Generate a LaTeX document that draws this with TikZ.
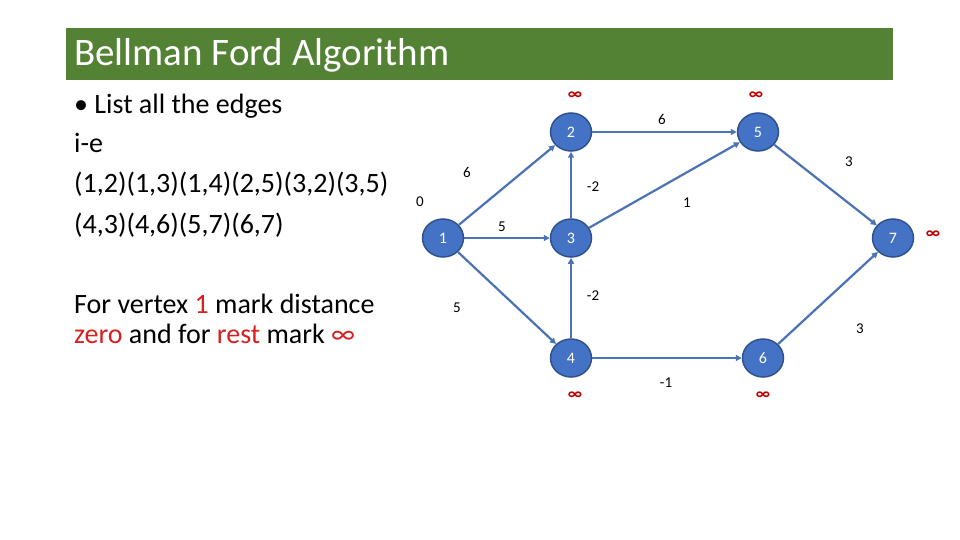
\documentclass[tikz,border=0pt]{standalone}
\usepackage{fontspec}
\setmainfont{Carlito}
\usetikzlibrary{arrows.meta,shapes.geometric}
\definecolor{titlegreen}{HTML}{548235}
\definecolor{nodefill}{HTML}{4472C4}
\definecolor{nodeline}{HTML}{2F528F}
\definecolor{edgeblue}{HTML}{4A72B4}
\definecolor{infred}{HTML}{C00000}
\definecolor{txtred}{HTML}{D92020}
\tikzset{
  vtx/.style={ellipse,fill=nodefill,draw=nodeline,line width=1.5pt,minimum width=41pt,minimum height=38pt,inner sep=0pt,text=white,font=\fontsize{16}{16}\selectfont},
  edge/.style={draw=edgeblue,line width=2.2pt,-{Triangle[length=6pt,width=6pt]}},
  wlab/.style={font=\fontsize{15}{15}\selectfont,inner sep=0pt},
  inf/.style={text=infred,font=\fontsize{17}{17}\selectfont\bfseries,inner sep=0pt},
  body/.style={anchor=base west,inner sep=0pt,font=\fontsize{28}{28}\selectfont}
}
\begin{document}
\begin{tikzpicture}[x=1pt,y=-1pt]
\useasboundingbox (0,0) rectangle (960,540);
\fill[white] (0,0) rectangle (960,540);
\fill[titlegreen] (66,28) rectangle (893,80);
\node[anchor=base west,inner sep=0pt,text=white,font=\fontsize{39}{39}\selectfont] (title) at (74,66) {Bellman Ford Algorithm};
\node[body] (l1) at (74,114) {• List all the edges};
\node[body] (l2) at (74,153) {i-e};
\node[body] (l3) at (74,193) {(1,2)(1,3)(1,4)(2,5)(3,2)(3,5)};
\node[body] (l4) at (74,233) {(4,3)(4,6)(5,7)(6,7)};
\node[body] (l5) at (74,313) {For vertex \textcolor{txtred}{1} mark distance};
\node[body] (l6) at (74,343) {\textcolor{txtred}{zero} and for \textcolor{txtred}{rest} mark \textcolor{txtred}{∞}};
% vertices
\node[vtx] (v1) at (443,238) {1};
\node[vtx] (v2) at (571,132) {2};
\node[vtx] (v3) at (571,238) {3};
\node[vtx] (v4) at (571,358) {4};
\node[vtx] (v5) at (758,132) {5};
\node[vtx] (v6) at (763,358) {6};
\node[vtx] (v7) at (893,238) {7};
% edges
\draw[edge] (v1) -- (v2);
\draw[edge] (v1) -- (v3);
\draw[edge] (v1) -- (v4);
\draw[edge] (v2) -- (v5);
\draw[edge] (v3) -- (v2);
\draw[edge] (v3) -- (v5);
\draw[edge] (v4) -- (v3);
\draw[edge] (v4) -- (v6);
\draw[edge] (v5) -- (v7);
\draw[edge] (v6) -- (v7);
% weights
\node[wlab] (w0) at (420,202) {0};
\node[wlab] (w12) at (467,172) {6};
\node[wlab] (w13) at (502,227) {5};
\node[wlab] (w32) at (593,187) {-2};
\node[wlab] (w35) at (687,203) {1};
\node[wlab] (w25) at (662,119) {6};
\node[wlab] (w57) at (849,162) {3};
\node[wlab] (w14) at (457,308) {5};
\node[wlab] (w43) at (593,296) {-2};
\node[wlab] (w67) at (860,329) {3};
\node[wlab] (w46) at (666,383) {-1};
% distances
\node[inf] (d2) at (575,96) {∞};
\node[inf] (d5) at (756,96) {∞};
\node[inf] (d7) at (933,235) {∞};
\node[inf] (d4) at (575,396) {∞};
\node[inf] (d6) at (763,396) {∞};
\end{tikzpicture}
\end{document}
